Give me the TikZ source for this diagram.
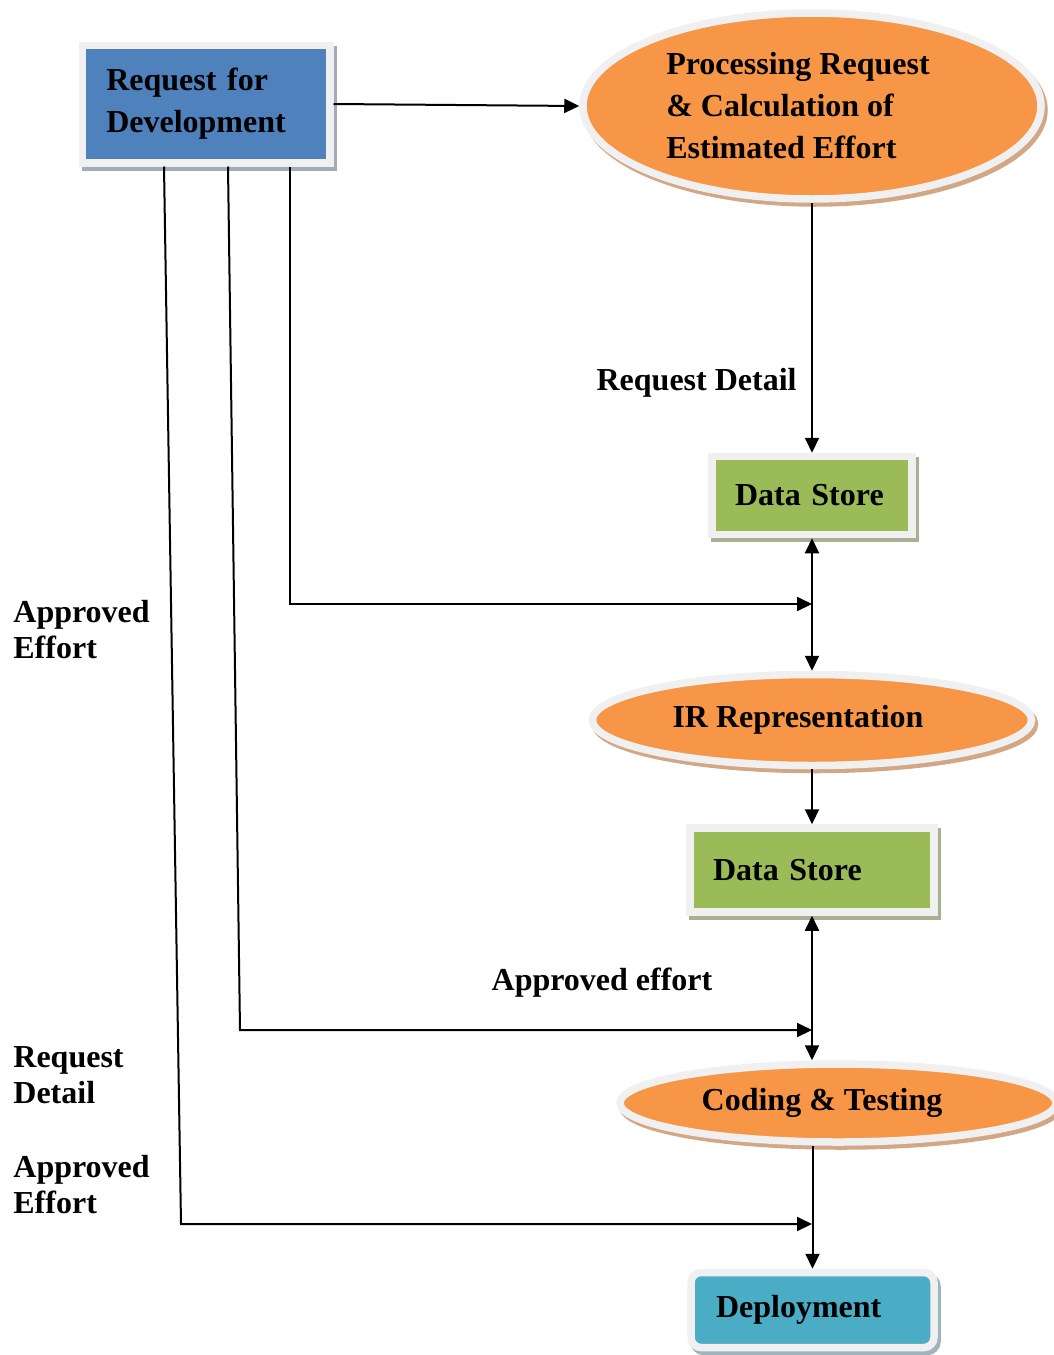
\documentclass[tikz,border=0pt]{standalone}
\usepackage{fontspec}
\setmainfont{Liberation Serif}
\usetikzlibrary{arrows.meta, shapes.geometric, shadows, positioning}
\definecolor{reqblue}{HTML}{4F81BD}
\definecolor{procorange}{HTML}{F79646}
\definecolor{storegreen}{HTML}{9BBB59}
\definecolor{deployteal}{HTML}{4BACC6}
\definecolor{rimgray}{HTML}{F0F0F0}
\definecolor{shblue}{HTML}{A3ABB8}
\definecolor{shorange}{HTML}{D2A786}
\definecolor{shgreen}{HTML}{A8B094}
\definecolor{shteal}{HTML}{9FB5BC}
\tikzset{
   mytext/.style={font=\fontsize{16}{21}\selectfont\bfseries},
   myshadow/.style={drop shadow={shadow xshift=1.5pt, shadow yshift=-2pt,
      fill=#1, draw=#1, line width=3.75pt, opacity=1}},
   myreq/.style={mytext, draw=rimgray, line width=3.75pt, fill=reqblue, align=left,
      text width=99.75pt, inner xsep=12pt, minimum height=58.75pt, myshadow=shblue},
   mystore/.style={mytext, draw=rimgray, line width=3.75pt, fill=storegreen, align=left,
      inner xsep=11.5pt, myshadow=shgreen},
   mydeploy/.style={mytext, draw=rimgray, line width=3.75pt, fill=deployteal, align=left,
      rounded corners=5pt, text width=96.5pt, inner xsep=12.5pt, minimum height=37.5pt,
      myshadow=shteal},
   myproc/.style={mytext, ellipse, draw=rimgray, line width=3.75pt, fill=procorange,
      inner sep=0pt, align=left, myshadow=shorange},
   mylabel/.style={mytext, inner sep=0pt, align=left, font=\fontsize{16}{18}\selectfont\bfseries}
}
\begin{document}
\begin{tikzpicture}[x=0.5pt, y=-0.5pt,
      flow/.style={-{Triangle[length=7.5pt,width=7pt]}, line width=1pt},
      dflow/.style={{Triangle[length=7.5pt,width=7pt]}-{Triangle[length=7.5pt,width=7pt]}, line width=1pt}]
\useasboundingbox (0,0) rectangle (1054,1355);

% process column
\node[myreq] (req) at (206,104) {Request for\\Development};
\node[myproc, minimum width=229pt, minimum height=93pt] (proc) at (812,106)
   {Processing Request\hspace*{14pt}\\\& Calculation of\\Estimated Effort};
\node[mystore, text width=77pt, minimum height=39pt] (ds1) at (812,495.5) {Data Store};
\node[myproc, minimum width=219.5pt, minimum height=45.5pt] (ir) at (812,720)
   {IR Representation\hspace{14pt}};
\node[mystore, text width=99pt, minimum height=42pt] (ds2) at (812,870) {Data Store};
\node[myproc, minimum width=218pt, minimum height=39pt] (coding) at (838,1103)
   {Coding \& Testing\hspace{16pt}};
\node[mydeploy] (deploy) at (812.5,1310) {Deployment};

% labels
\node[mylabel, anchor=east] (lreq) at (797,383) {Request Detail};
\node[mylabel] (lapp) at (602,983) {Approved effort};
\node[mylabel, anchor=west] (lapp1) at (13,630) {Approved\\Effort};
\node[mylabel, anchor=west] (lreq2) at (13,1075) {Request\\Detail};
\node[mylabel, anchor=west] (lapp2) at (13,1185) {Approved\\Effort};

% junctions
\coordinate (j1) at (812,604);
\coordinate (j2) at (812,1030);
\coordinate (j3) at (812,1224);
\coordinate (k2) at (240,1030);
\coordinate (k3) at (181,1224);

\draw[flow] (req.east) -- (proc.west);
\draw[flow] (proc.south) -- (ds1.north);
\draw[dflow] (ds1.south) -- (ir.north);
\draw[flow] ([xshift=42pt]req.south) |- (j1);
\draw[flow] (ir.south) -- (ds2.north);
\draw[dflow] (ds2.south) -- (ds2.south |- coding.north);
\draw[flow] ([xshift=11pt]req.south) -- (k2) -- (j2);
\draw[flow] (coding.south -| deploy.north) -- (deploy.north);
\draw[flow] ([xshift=-21pt]req.south) -- (k3) -- (j3);
\end{tikzpicture}
\end{document}
